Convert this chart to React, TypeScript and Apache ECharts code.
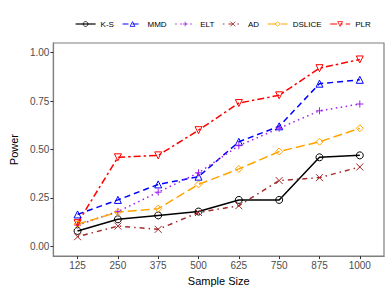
import React, { useEffect, useRef } from "react";
import * as echarts from "echarts";

const sampleSizes = [125, 250, 375, 500, 625, 750, 875, 1000];
const ksPower = [0.08, 0.14, 0.16, 0.18, 0.24, 0.24, 0.46, 0.47];
const mmdPower = [0.165, 0.24, 0.32, 0.36, 0.54, 0.62, 0.84, 0.86];
const eltPower = [0.11, 0.18, 0.28, 0.38, 0.52, 0.61, 0.70, 0.735];
const adPower = [0.05, 0.105, 0.088, 0.175, 0.21, 0.34, 0.355, 0.41];
const dslicePower = [0.115, 0.177, 0.195, 0.32, 0.40, 0.49, 0.54, 0.61];
const plrPower = [0.12, 0.46, 0.47, 0.60, 0.74, 0.78, 0.92, 0.965];
const yTicks = [0, 0.25, 0.5, 0.75, 1];

const methods = [
  { name: "K-S", values: ksPower, color: "#000000", dash: "solid" as any, symbol: "circle" },
  { name: "MMD", values: mmdPower, color: "#0000ff", dash: [6, 4] as any, symbol: "triangle" },
  { name: "ELT", values: eltPower, color: "#a020f0", dash: [1.5, 3.5] as any, symbol: "path://M5,0L5,10M0,5L10,5" },
  { name: "AD", values: adPower, color: "#a52a2a", dash: [1.5, 4, 5, 4] as any, symbol: "path://M0,0L10,10M10,0L0,10" },
  { name: "DSLICE", values: dslicePower, color: "#ffa500", dash: [9, 4] as any, symbol: "diamond" },
  { name: "PLR", values: plrPower, color: "#ff0000", dash: [7, 3, 2.5, 3] as any, symbol: "path://M0,0L10,0L5,9Z" },
];

export default function App() {
  const ref = useRef<HTMLDivElement>(null);
  useEffect(() => {
    if (!ref.current) return;
    const chart = echarts.init(ref.current, null, { renderer: "svg" });
    const font = "'Liberation Sans', Arial, sans-serif";
    chart.setOption({
      animation: false,
      backgroundColor: "#ffffff",
      legend: {
        top: 15,
        left: 70,
        itemWidth: 20,
        itemHeight: 6,
        itemGap: 8,
        textStyle: { fontSize: 8, color: "#000", fontFamily: font },
        lineStyle: { width: 1.2 },
        itemStyle: { borderWidth: 0.8 },
        data: methods.map((m) => m.name),
      },
      grid: {
        left: 40,
        right: 4,
        top: 43,
        bottom: 30,
        show: true,
        borderColor: "#7f7f7f",
        borderWidth: 1.2,
      },
      xAxis: {
        type: "value",
        min: 50,
        max: 1075,
        name: "Sample Size",
        nameLocation: "middle",
        nameGap: 15,
        nameTextStyle: { fontSize: 11, color: "#000", fontFamily: font },
        axisLine: { show: true, onZero: false, lineStyle: { color: "#7f7f7f", width: 1.2 } },
        axisTick: { show: true, length: 3, customValues: sampleSizes, lineStyle: { color: "#333" } },
        axisLabel: {
          customValues: sampleSizes,
          fontSize: 10,
          color: "#4d4d4d",
          margin: 4,
          fontFamily: font,
          formatter: (v: number) => String(v),
        },
        splitLine: { show: false },
      },
      yAxis: {
        type: "value",
        min: -0.05,
        max: 1.05,
        name: "Power",
        nameLocation: "middle",
        nameGap: 31,
        nameTextStyle: { fontSize: 11, color: "#000", fontFamily: font },
        axisLine: { show: true, lineStyle: { color: "#7f7f7f", width: 1.2 } },
        axisTick: { show: true, length: 3, customValues: yTicks, lineStyle: { color: "#333" } },
        axisLabel: {
          customValues: yTicks,
          fontSize: 10,
          color: "#4d4d4d",
          margin: 4,
          fontFamily: font,
          formatter: (v: number) => v.toFixed(2),
        },
        splitLine: { show: false },
      },
      series: methods.map((m) => ({
        name: m.name,
        type: "line",
        data: sampleSizes.map((s, i) => [s, m.values[i]]),
        symbol: m.symbol,
        symbolSize: 7,
        showSymbol: true,
        lineStyle: { color: m.color, width: 1.5, type: m.dash },
        itemStyle: { color: "rgba(255,255,255,0)", borderColor: m.color, borderWidth: 1 },
        emphasis: { disabled: true },
      })),
    });
    return () => chart.dispose();
  }, []);
  return <div ref={ref} style={{ width: 388, height: 291, position: "absolute", left: 0, top: 0 }} />;
}
